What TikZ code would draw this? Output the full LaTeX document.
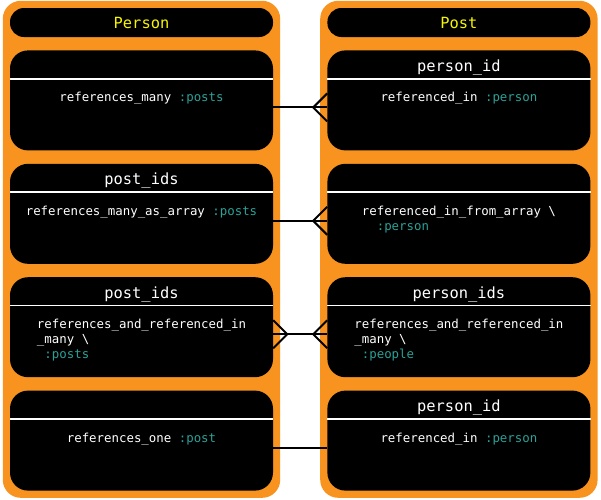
\documentclass[tikz,border=0pt]{standalone}
\usepackage{fontspec}
\setmonofont{DejaVu Sans Mono}
\usepackage{xcolor}
\usetikzlibrary{positioning,backgrounds,fit}
\definecolor{modelorange}{HTML}{F7931E}
\definecolor{reltype}{HTML}{2AA198}
\definecolor{modelyellow}{HTML}{F5F500}
\newcommand{\reltarget}[1]{\textcolor{reltype}{#1}}

\begin{document}
\begin{tikzpicture}[
    node distance=13pt and 54pt,
    model/.style={rectangle, fill=black, rounded corners=14pt, minimum width=263pt, minimum height=29pt, inner sep=0pt, text height=12pt, text depth=0pt, text=modelyellow, font=\ttfamily\fontsize{15.4}{18}\selectfont},
    field/.style={rectangle, fill=black, rounded corners=18pt, minimum width=263pt, minimum height=100pt, inner sep=0pt},
    fieldname/.style={anchor=north, minimum height=30pt, inner sep=0pt, text height=12pt, text depth=0pt, text=white, font=\ttfamily\fontsize{15.4}{18}\selectfont},
    fieldrel/.style={anchor=north, yshift=-13.5pt, inner sep=0pt, align=left, text=white, font=\ttfamily\fontsize{12.4}{15}\selectfont},
    sepline/.style={draw=white, line width=1.8pt},
    link/.style={draw=black, line width=2pt},
    container/.style={rectangle, fill=modelorange, rounded corners=18pt, inner sep=7pt},
]
\useasboundingbox (0,0) rectangle (601pt,-499pt);
% Model headers
\node[model] (person) at (141.5pt,-22.5pt) {Person};
\node[model, right=of person] (post) {Post};
% Person fields
\node[field, below=of person] (pmany) {};
\node[field, below=of pmany] (parray) {};
\node[field, below=of parray] (pboth) {};
\node[field, below=of pboth] (pone) {};
% Post fields
\node[field, below=of post] (tin) {};
\node[field, below=of tin] (tarray) {};
\node[field, below=of tarray] (tboth) {};
\node[field, below=of tboth] (tone) {};
% Orange model containers
\begin{scope}[on background layer]
\node[container, fit=(person)(pone)] (personbox) {};
\node[container, fit=(post)(tone)] (postbox) {};
\end{scope}
% Field names and separators
\node[fieldname] (pmanyname) at (pmany.north) {};
\node[fieldname] (parrayname) at (parray.north) {post\_ids};
\node[fieldname] (pbothname) at (pboth.north) {post\_ids};
\node[fieldname] (ponename) at (pone.north) {};
\node[fieldname] (tinname) at (tin.north) {person\_id};
\node[fieldname] (tarrayname) at (tarray.north) {};
\node[fieldname] (tbothname) at (tboth.north) {person\_ids};
\node[fieldname] (tonename) at (tone.north) {person\_id};
\draw[sepline] ([yshift=-28.5pt]pmany.north west) -- ([yshift=-28.5pt]pmany.north east);
\draw[sepline] ([yshift=-28.5pt]parray.north west) -- ([yshift=-28.5pt]parray.north east);
\draw[sepline] ([yshift=-28.5pt]pboth.north west) -- ([yshift=-28.5pt]pboth.north east);
\draw[sepline] ([yshift=-28.5pt]pone.north west) -- ([yshift=-28.5pt]pone.north east);
\draw[sepline] ([yshift=-28.5pt]tin.north west) -- ([yshift=-28.5pt]tin.north east);
\draw[sepline] ([yshift=-28.5pt]tarray.north west) -- ([yshift=-28.5pt]tarray.north east);
\draw[sepline] ([yshift=-28.5pt]tboth.north west) -- ([yshift=-28.5pt]tboth.north east);
\draw[sepline] ([yshift=-28.5pt]tone.north west) -- ([yshift=-28.5pt]tone.north east);
% Relations
\node[fieldrel] (pmanyrel) at ([yshift=-28.5pt]pmany.north) {references\_many \reltarget{:posts}};
\node[fieldrel] (parrayrel) at ([yshift=-28.5pt]parray.north) {references\_many\_as\_array \reltarget{:posts}};
\node[fieldrel] (pbothrel) at ([yshift=-28.5pt]pboth.north) {references\_and\_referenced\_in\\\_many \textbackslash\\\phantom{x}\reltarget{:posts}};
\node[fieldrel] (ponerel) at ([yshift=-28.5pt]pone.north) {references\_one \reltarget{:post}};
\node[fieldrel] (tinrel) at ([yshift=-28.5pt]tin.north) {referenced\_in \reltarget{:person}};
\node[fieldrel] (tarrayrel) at ([yshift=-28.5pt]tarray.north) {referenced\_in\_from\_array \textbackslash\\\phantom{xx}\reltarget{:person}};
\node[fieldrel] (tbothrel) at ([yshift=-28.5pt]tboth.north) {references\_and\_referenced\_in\\\_many \textbackslash\\\phantom{x}\reltarget{:people}};
\node[fieldrel] (tonerel) at ([yshift=-28.5pt]tone.north) {referenced\_in \reltarget{:person}};
% Connectors
\draw[link] ([yshift=-7pt]pmany.east) -- ([yshift=-7pt]tin.west);
\draw[link] ([yshift=7pt]tin.west) -- ++(-14pt,-14pt) -- ++(14pt,-14pt);
\draw[link] ([yshift=-7pt]parray.east) -- ([yshift=-7pt]tarray.west);
\draw[link] ([yshift=7pt]tarray.west) -- ++(-14pt,-14pt) -- ++(14pt,-14pt);
\draw[link] ([yshift=-7pt]pboth.east) -- ([yshift=-7pt]tboth.west);
\draw[link] ([yshift=7pt]pboth.east) -- ++(14pt,-14pt) -- ++(-14pt,-14pt);
\draw[link] ([yshift=7pt]tboth.west) -- ++(-14pt,-14pt) -- ++(14pt,-14pt);
\draw[link] ([yshift=-7pt]pone.east) -- ([yshift=-7pt]tone.west);
\end{tikzpicture}
\end{document}
